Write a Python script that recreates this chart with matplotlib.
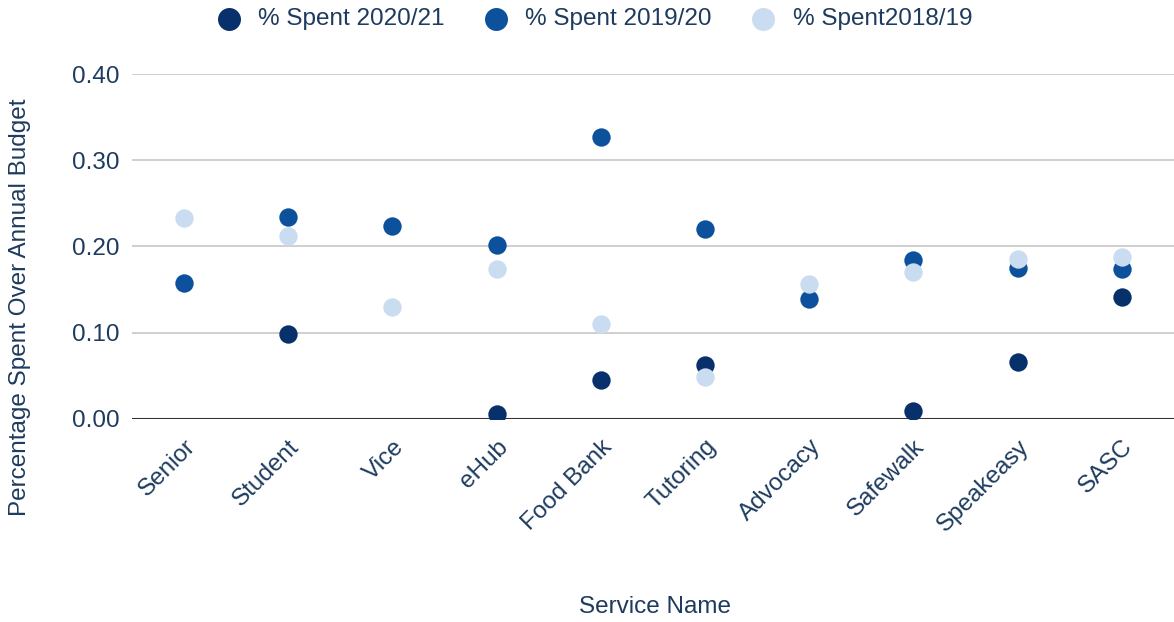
import numpy as np
import matplotlib.pyplot as plt

plt.rcParams['font.family'] = ['Liberation Sans', 'DejaVu Sans']

services = ['Senior', 'Student', 'Vice', 'eHub', 'Food Bank', 'Tutoring',
            'Advocacy', 'Safewalk', 'Speakeasy', 'SASC']
spent_2021 = [np.nan, 0.099, np.nan, 0.006, 0.045, 0.063, np.nan, 0.009, 0.066, 0.141]
spent_2020 = [0.158, 0.234, 0.224, 0.202, 0.327, 0.220, 0.139, 0.184, 0.175, 0.174]
spent_2019 = [0.233, 0.212, 0.130, 0.174, 0.110, 0.049, 0.157, 0.170, 0.186, 0.188]

series = [
    ('% Spent 2020/21', spent_2021, '#08306b'),
    ('% Spent 2019/20', spent_2020, '#0d509c'),
    ('% Spent2018/19', spent_2019, '#cadcf0'),
]
text_col = '#1d3b5e'
fs = 17.5

fig = plt.figure(figsize=(11.74, 6.22), dpi=100)
ax = fig.add_axes([0.1124, 0.3264, 0.8876, 0.5546])

x = np.arange(len(services))
for label, vals, col in series:
    ax.scatter(x, vals, s=175, color=col, label=label, zorder=3, linewidths=0)

ax.set_xlim(-0.5, len(services) - 0.5)
ax.set_ylim(0, 0.4)
ax.set_yticks([0, 0.1, 0.2, 0.3, 0.4])
ax.set_yticklabels(['0.00', '0.10', '0.20', '0.30', '0.40'])
ax.yaxis.grid(True, color='#cccccc', linewidth=1.3)
ax.axhline(0, color='#333333', linewidth=1.5, zorder=2)
ax.set_axisbelow(True)
for s in ax.spines.values():
    s.set_visible(False)
ax.tick_params(axis='both', length=0, labelsize=fs, colors=text_col)
ax.tick_params(axis='y', pad=9)

ax.set_xticks(x)
ax.set_xticklabels(services, rotation=45, ha='right', rotation_mode='anchor')
ax.tick_params(axis='x', pad=12)

fig.text(20 / 1174, 1 - 307 / 622, 'Percentage Spent Over Annual Budget',
         rotation=90, va='center', ha='center', fontsize=fs, color=text_col)
fig.text(655 / 1174, 1 - 607 / 622, 'Service Name', ha='center', va='center',
         fontsize=fs, color=text_col)

leg = fig.legend(loc='center', bbox_to_anchor=(593 / 1174, 1 - 19 / 622), ncol=3,
                 frameon=False, fontsize=fs, markerscale=1.25, handletextpad=0.62,
                 handlelength=1.2, columnspacing=1.5)
for t in leg.get_texts():
    t.set_color(text_col)

fig.savefig('out.png', dpi=100)
